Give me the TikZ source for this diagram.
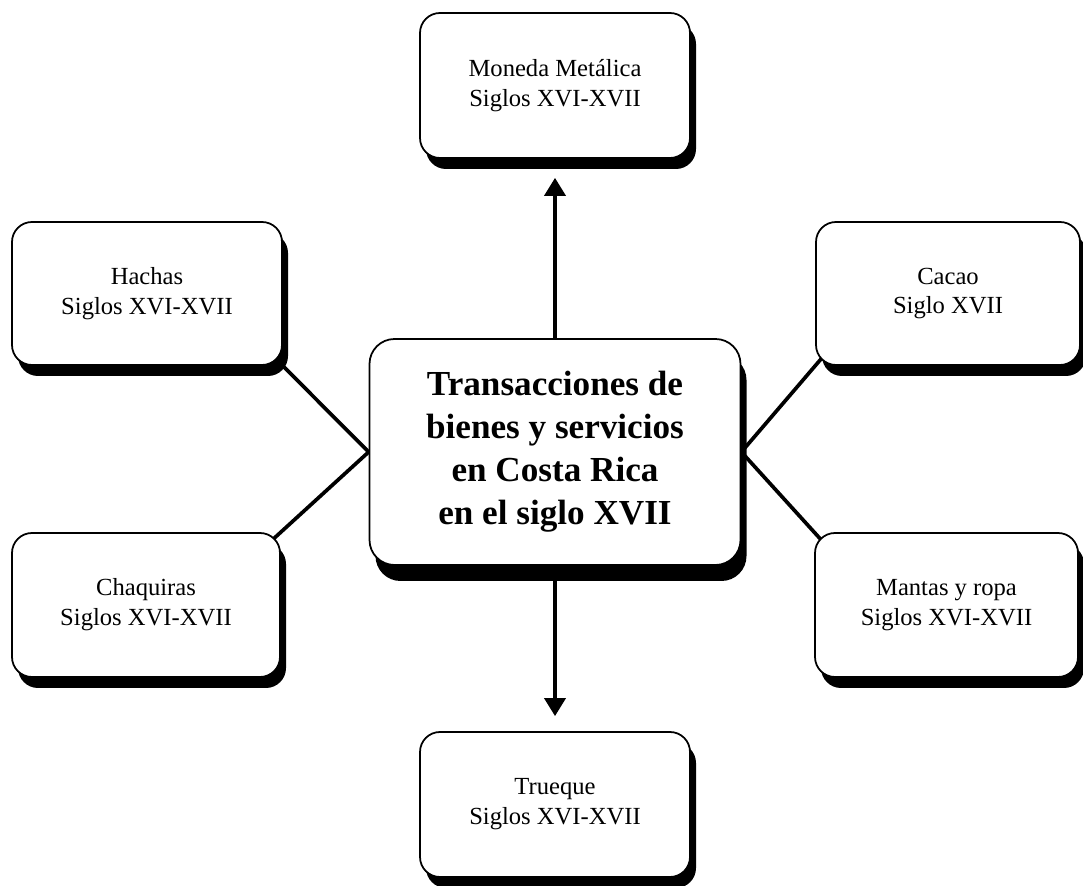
\documentclass[tikz,border=0pt]{standalone}
\usepackage{fontspec}
\setmainfont{Liberation Serif}
\usepackage{tikz}
\usetikzlibrary{arrows.meta,backgrounds,shadows}
\tikzset{
  boxSmall/.style={ draw, line width=1pt, fill=white, rounded corners=0.4cm, align=center,
    font=\fontsize{14}{17}\selectfont,
    drop shadow={shadow xshift=0.12cm, shadow yshift=-0.22cm, fill=black, opacity=1} }
}
\tikzset{
  boxMain/.style={ draw, line width=1pt, fill=white, rounded corners=0.5cm, align=center,
    font=\fontsize{20}{24.5}\selectfont\bfseries, minimum width=7.42cm, minimum height=4.52cm,
    drop shadow={shadow xshift=0.12cm, shadow yshift=-0.32cm, fill=black, opacity=1} }
}
\tikzset{
  lnk/.style={ line width=2.1pt, shorten >=-0.3cm }
}
\tikzset{
  arr/.style={ line width=2.1pt, -{Triangle[width=0.42cm, length=0.36cm]} }
}

\begin{document}
\begin{tikzpicture}
      \useasboundingbox (0, 0) rectangle (21.66, 17.7);
      \node[boxMain] (trans) at (11.1, 8.66) {Transacciones de\\bienes y servicios\\en Costa Rica\\en el siglo XVII};
      \node[boxSmall, minimum width=5.4cm, minimum height=2.9cm] (mon) at (11.1, 15.99) {Moneda Metálica\\Siglos XVI-XVII};
      \node[boxSmall, minimum width=5.4cm, minimum height=2.86cm] (hach) at (2.94, 11.83) {Hachas\\Siglos XVI-XVII};
      \node[boxSmall, minimum width=5.28cm, minimum height=2.86cm] (cac) at (18.96, 11.83) {Cacao\\Siglo XVII};
      \node[boxSmall, minimum width=5.36cm, minimum height=2.88cm] (chaq) at (2.92, 5.6) {Chaquiras\\Siglos XVI-XVII};
      \node[boxSmall, minimum width=5.26cm, minimum height=2.88cm] (mant) at (18.93, 5.6) {Mantas y ropa\\Siglos XVI-XVII};
      \node[boxSmall, minimum width=5.4cm, minimum height=2.9cm] (trueq) at (11.1, 1.61) {Trueque\\Siglos XVI-XVII};
      \begin{scope}[on background layer]
        \draw[arr, shorten >=0.38cm] (trans.north) -- (mon.south);
        \draw[arr, shorten >=0.3cm] (trans.south) -- (trueq.north);
        \draw[lnk] (trans.west) -- (hach.south east);
        \draw[lnk] (trans.west) -- (chaq.north east);
        \draw[lnk] (trans.east) -- (cac.south west);
        \draw[lnk] (trans.east) -- (mant.north west);
      \end{scope}
    \end{tikzpicture}
\end{document}
